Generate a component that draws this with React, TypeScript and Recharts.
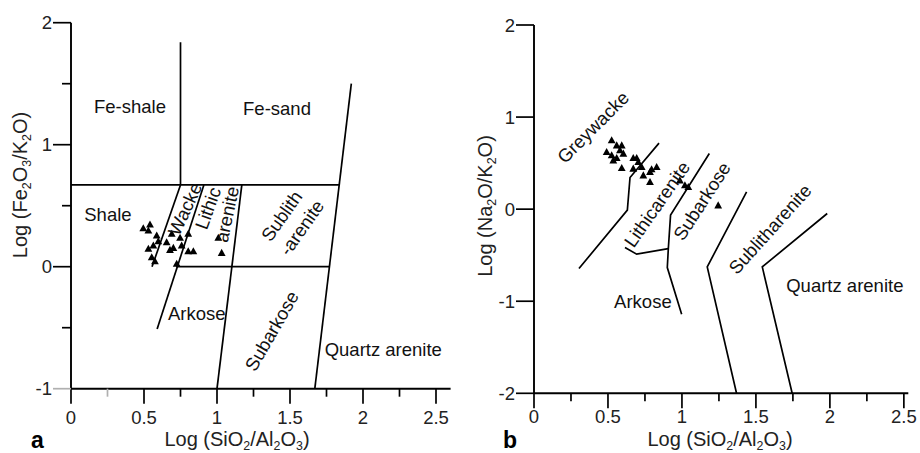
import { ScatterChart, Scatter, XAxis, YAxis, ReferenceDot } from 'recharts';

const FONT = '"Liberation Sans", Arial, Helvetica, sans-serif';

// ---- panel a : Log(SiO2/Al2O3) vs Log(Fe2O3/K2O)
const aSampleX = [0.495, 0.541, 0.53, 0.587, 0.598, 0.655, 0.69, 0.747, 0.803, 0.803, 0.838, 0.701, 0.678, 0.758, 0.53, 0.564, 0.553, 0.575, 0.724, 1.009, 1.032];
const aSampleY = [0.311, 0.342, 0.293, 0.252, 0.205, 0.197, 0.266, 0.233, 0.266, 0.123, 0.123, 0.151, 0.134, 0.17, 0.143, 0.17, 0.074, 0.041, 0.02, 0.233, 0.11];

const aFeSplit = [[0.75, 0.67], [0.75, 1.84]];
const aUpperLine = [[0, 0.67], [1.837, 0.67]];
const aZeroLine = [[0.72, 0], [1.77, 0]];
const aShaleWacke = [[0.75, 0.67], [0.555, 0]];
const aWackeLithic = [[0.91, 0.67], [0.59, -0.51]];
const aLithicSublith = [[1.17, 0.67], [1.0, -1]];
const aQuartzLine = [[1.67, -1], [1.92, 1.5]];
const aLines = [aFeSplit, aUpperLine, aZeroLine, aShaleWacke, aWackeLithic, aLithicSublith, aQuartzLine];

const aLabelText = ['Fe-shale', 'Fe-sand', 'Shale', 'Wacke', 'Lithic', 'arenite', 'Sublith', '-arenite', 'Arkose', 'Subarkose', 'Quartz arenite'];
const aLabelX = [0.404, 1.411, 0.253, 0.781, 0.938, 1.068, 1.443, 1.58, 0.861, 1.375, 2.139];
const aLabelY = [1.317, 1.3, 0.424, 0.473, 0.48, 0.43, 0.416, 0.32, -0.385, -0.527, -0.677];
const aLabelAngle = [0, 0, 0, -65, -70, -78, -55, -55, 0, -60, 0];

// ---- panel b : Log(SiO2/Al2O3) vs Log(Na2O/K2O)
const bSampleX = [0.525, 0.559, 0.593, 0.581, 0.604, 0.491, 0.525, 0.559, 0.536, 0.593, 0.671, 0.694, 0.705, 0.671, 0.728, 0.739, 0.784, 0.795, 0.829, 0.784, 0.986, 1.02, 1.043, 1.245];
const bSampleY = [0.743, 0.688, 0.688, 0.634, 0.598, 0.616, 0.58, 0.551, 0.525, 0.442, 0.551, 0.551, 0.507, 0.435, 0.453, 0.362, 0.399, 0.428, 0.453, 0.29, 0.308, 0.254, 0.236, 0.036];

const bGreywackeLine = [[0.845, 0.717], [0.649, 0.344], [0.631, -0.01], [0.304, -0.645]];
const bLithicLine = [[1.185, 0.605], [0.923, -0.065], [0.908, -0.428], [0.901, -0.634], [0.998, -1.141]];
const bArkoseLine = [[0.908, -0.428], [0.694, -0.489], [0.615, -0.417]];
const bSubarkoseLine = [[1.437, 0.188], [1.171, -0.627], [1.369, -2]];
const bQuartzLine = [[1.982, -0.047], [1.543, -0.627], [1.745, -2]];
const bLines = [bGreywackeLine, bLithicLine, bArkoseLine, bSubarkoseLine, bQuartzLine];

const bLabelText = ['Greywacke', 'Lithicarenite', 'Subarkose', 'Sublitharenite', 'Arkose', 'Quartz arenite'];
const bLabelX = [0.399, 0.831, 1.135, 1.595, 0.736, 2.101];
const bLabelY = [0.891, 0.054, 0.087, -0.217, -1.0, -0.826];
const bLabelAngle = [-45, -55, -57, -48, 0, 0];

const xTicks = [0, 0.25, 0.5, 0.75, 1, 1.25, 1.5, 1.75, 2, 2.25, 2.5];
const aYTicks = [-1, -0.5, 0, 0.5, 1, 1.5, 2];
const bYTicks = [-2, -1, 0, 1, 2];

const isMajor = (v: number) => Math.abs(v * 2 - Math.round(v * 2)) < 1e-6;
const fmt = (v: number) => String(v);

const Tri = (p: any) => (
  <polygon
    points={`${p.cx},${p.cy - 4.5} ${p.cx - 3.9},${p.cy + 2.6} ${p.cx + 3.9},${p.cy + 2.6}`}
    fill="#000"
  />
);

const makeXTick = (labelGap: number, greyAt: number[]) => (p: any) => {
  const v = p.payload.value;
  const major = isMajor(v);
  const col = greyAt.includes(v) ? '#b0b0b0' : '#000';
  return (
    <g>
      <line x1={p.x} x2={p.x} y1={p.y} y2={p.y + (major ? 15 : 8)} stroke={col} strokeWidth={1.7} />
      {major && (
        <text x={p.x} y={p.y + labelGap} textAnchor="middle" fontSize={18.5} fontFamily={FONT} fill="#222">
          {fmt(v)}
        </text>
      )}
    </g>
  );
};

const makeYTick = (greyAt: number[]) => (p: any) => {
  const v = p.payload.value;
  const major = Number.isInteger(v);
  const col = greyAt.includes(v) ? '#b0b0b0' : '#000';
  return (
    <g>
      <line x1={p.x} x2={p.x - (major ? 18 : 9)} y1={p.y} y2={p.y} stroke={col} strokeWidth={1.7} />
      {major && (
        <text x={p.x - 19} y={p.y + 6.5} textAnchor="end" fontSize={18.5} fontFamily={FONT} fill="#222">
          {fmt(v)}
        </text>
      )}
    </g>
  );
};

type PanelProps = {
  left: number;
  margin: { top: number; right: number; bottom: number; left: number };
  xMax: number;
  yDomain: [number, number];
  yTicks: number[];
  sx: number[];
  sy: number[];
  lines: number[][][];
  labels: string[];
  lx: number[];
  ly: number[];
  la: number[];
  xLabelGap: number;
  greyX: number[];
  greyY: number[];
};

function Panel(props: PanelProps) {
  const samples = props.sx.map((x, i) => ({ x, y: props.sy[i] }));
  return (
    <div style={{ position: 'absolute', left: props.left, top: 0 }}>
      <ScatterChart width={460} height={453} margin={props.margin}>
        <XAxis
          type="number"
          dataKey="x"
          domain={[0, props.xMax]}
          allowDataOverflow
          ticks={xTicks}
          interval={0}
          height={40}
          tickSize={0}
          tickMargin={0}
          tickLine={false}
          axisLine={{ stroke: '#000', strokeWidth: 1.9 }}
          tick={makeXTick(props.xLabelGap, props.greyX)}
        />
        <YAxis
          type="number"
          dataKey="y"
          domain={props.yDomain}
          allowDataOverflow
          ticks={props.yTicks}
          interval={0}
          width={50}
          tickSize={0}
          tickMargin={0}
          tickLine={false}
          axisLine={{ stroke: '#000', strokeWidth: 1.9 }}
          tick={makeYTick(props.greyY)}
        />
        {props.lines.map((ln, i) => (
          <Scatter
            key={'l' + i}
            data={ln.map(([x, y]) => ({ x, y }))}
            line={{ stroke: '#000', strokeWidth: 1.7 }}
            shape={() => <g />}
            isAnimationActive={false}
          />
        ))}
        <Scatter data={samples} shape={Tri} isAnimationActive={false} />
        {props.labels.map((t, i) => (
          <ReferenceDot
            key={'t' + i}
            x={props.lx[i]}
            y={props.ly[i]}
            r={0}
            shape={(p: any) => (
              <text
                x={p.cx}
                y={p.cy}
                textAnchor="middle"
                dominantBaseline="central"
                transform={`rotate(${props.la[i]} ${p.cx} ${p.cy})`}
                fontSize={18.5}
                fontFamily={FONT}
                fill="#111"
              >
                {t}
              </text>
            )}
          />
        ))}
      </ScatterChart>
    </div>
  );
}

const sub = { fontSize: '0.62em', verticalAlign: '-0.35em' } as const;

function Title(props: { x: number; y: number; rotate?: number; children: any }) {
  return (
    <div
      style={{
        position: 'absolute',
        left: props.x,
        top: props.y,
        transform: `translate(-50%, -50%) rotate(${props.rotate || 0}deg)`,
        fontFamily: FONT,
        fontSize: 20,
        lineHeight: 1,
        whiteSpace: 'nowrap',
        color: '#222',
      }}
    >
      {props.children}
    </div>
  );
}

export default function App() {
  return (
    <div style={{ position: 'absolute', left: 0, top: 0, width: 920, height: 453, background: '#fff', overflow: 'hidden' }}>
      <Panel
        left={0}
        margin={{ top: 22.7, right: 9.4, bottom: 24.3, left: 21 }}
        xMax={2.6}
        yDomain={[-1, 2]}
        yTicks={aYTicks}
        sx={aSampleX}
        sy={aSampleY}
        lines={aLines}
        labels={aLabelText}
        lx={aLabelX}
        ly={aLabelY}
        la={aLabelAngle}
        xLabelGap={35}
        greyX={[0.25]}
        greyY={[-1]}
      />
      <Panel
        left={460}
        margin={{ top: 25, right: 11.7, bottom: 19.7, left: 24 }}
        xMax={2.53}
        yDomain={[-2, 2]}
        yTicks={bYTicks}
        sx={bSampleX}
        sy={bSampleY}
        lines={bLines}
        labels={bLabelText}
        lx={bLabelX}
        ly={bLabelY}
        la={bLabelAngle}
        xLabelGap={30}
        greyX={[]}
        greyY={[]}
      />
      <Title x={22} y={185} rotate={-90}>
        Log (Fe<span style={sub}>2</span>O<span style={sub}>3</span>/K<span style={sub}>2</span>O)
      </Title>
      <Title x={237} y={441}>
        Log (SiO<span style={sub}>2</span>/Al<span style={sub}>2</span>O<span style={sub}>3</span>)
      </Title>
      <Title x={487} y={206} rotate={-90}>
        Log (Na<span style={sub}>2</span>O/K<span style={sub}>2</span>O)
      </Title>
      <Title x={720} y={441}>
        Log (SiO<span style={sub}>2</span>/Al<span style={sub}>2</span>O<span style={sub}>3</span>)
      </Title>
      <svg width={920} height={453} style={{ position: 'absolute', left: 0, top: 0, pointerEvents: 'none' }}>
        <text x={31} y={448} fontFamily={FONT} fontWeight="bold" fontSize={23} fill="#000">a</text>
        <text x={503} y={448} fontFamily={FONT} fontWeight="bold" fontSize={23} fill="#000">b</text>
      </svg>
    </div>
  );
}
